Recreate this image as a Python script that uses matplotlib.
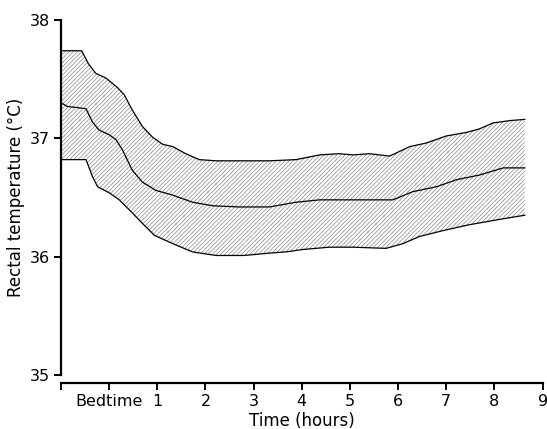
import matplotlib.pyplot as plt
import numpy as np

# time (hours from bedtime) and rectal temperature readings
upper_x = [-1.0, -0.57, -0.43, -0.28, -0.07, 0.17, 0.31, 0.48, 0.69, 0.9, 1.11, 1.32, 1.59, 1.87, 2.22,
           2.8, 3.33, 3.88, 4.37, 4.78, 5.06, 5.41, 5.82, 5.93, 6.24, 6.58, 6.79, 7.0, 7.42, 7.69, 7.97, 8.32, 8.63]
upper_y = [37.74, 37.74, 37.63, 37.55, 37.51, 37.43, 37.37, 37.24, 37.10, 37.01, 36.95, 36.93, 36.87, 36.82, 36.81,
           36.81, 36.81, 36.82, 36.86, 36.87, 36.86, 36.87, 36.85, 36.87, 36.93, 36.96, 36.99, 37.02, 37.05, 37.08, 37.13, 37.15, 37.16]

mid_x = [-1.0, -0.87, -0.48, -0.35, -0.21, 0.0, 0.14, 0.28, 0.48, 0.69, 0.97, 1.32, 1.73, 2.15, 2.7,
         3.33, 3.88, 4.37, 5.06, 5.41, 5.89, 6.31, 6.79, 7.21, 7.69, 8.18, 8.63]
mid_y = [37.30, 37.27, 37.25, 37.14, 37.07, 37.03, 36.99, 36.90, 36.73, 36.63, 36.56, 36.52, 36.46, 36.43, 36.42,
         36.42, 36.46, 36.48, 36.48, 36.48, 36.48, 36.55, 36.59, 36.65, 36.69, 36.75, 36.75]

lower_x = [-1.0, -0.48, -0.35, -0.24, 0.0, 0.21, 0.48, 0.62, 0.94, 1.32, 1.73, 2.22, 2.8, 3.33, 3.67, 4.01,
           4.57, 5.06, 5.75, 6.10, 6.44, 6.93, 7.48, 8.04, 8.18, 8.63]
lower_y = [36.82, 36.82, 36.68, 36.59, 36.54, 36.48, 36.37, 36.31, 36.18, 36.11, 36.04, 36.01, 36.01, 36.03, 36.04, 36.06,
           36.08, 36.08, 36.07, 36.11, 36.17, 36.22, 36.27, 36.31, 36.32, 36.35]

xticks = [-1, 0, 1, 2, 3, 4, 5, 6, 7, 8, 9]
xticklabels = ['', 'Bedtime', '1', '2', '3', '4', '5', '6', '7', '8', '9']
yticks = [35, 36, 37, 38]

plt.rcParams['font.family'] = 'DejaVu Sans'
plt.rcParams['hatch.linewidth'] = 0.5
plt.rcParams['hatch.color'] = '#888888'

fig = plt.figure(figsize=(5.47, 4.29), dpi=100)
ax = fig.add_axes([0.1115, 0.1259, 0.8805, 0.8275])

# shaded band between upper and lower limits
grid = np.array(sorted(set(upper_x) | set(lower_x)))
up = np.interp(grid, upper_x, upper_y)
lo = np.interp(grid, lower_x, lower_y)
ax.fill_between(grid, lo, up, facecolor='white', edgecolor='#888888', hatch='////////', linewidth=0)

ax.plot(upper_x, upper_y, color='black', lw=0.9)
ax.plot(mid_x, mid_y, color='black', lw=0.9)
ax.plot(lower_x, lower_y, color='black', lw=0.9)

ax.set_xlim(-1, 9)
ax.set_ylim(35, 38)
ax.set_xticks(xticks)
ax.set_xticklabels(xticklabels)
ax.set_yticks(yticks)

for s in ['top', 'right']:
    ax.spines[s].set_visible(False)
ax.spines['bottom'].set_position(('outward', 6))
ax.spines['left'].set_linewidth(1.6)
ax.spines['bottom'].set_linewidth(1.6)
ax.tick_params(axis='both', direction='out', length=5, width=1.4, labelsize=11.5, pad=3)

ax.set_xlabel('Time (hours)', fontsize=12, labelpad=2)
ax.set_ylabel('Rectal temperature (°C)', fontsize=12, labelpad=3)

plt.savefig('out.png', dpi=100)
